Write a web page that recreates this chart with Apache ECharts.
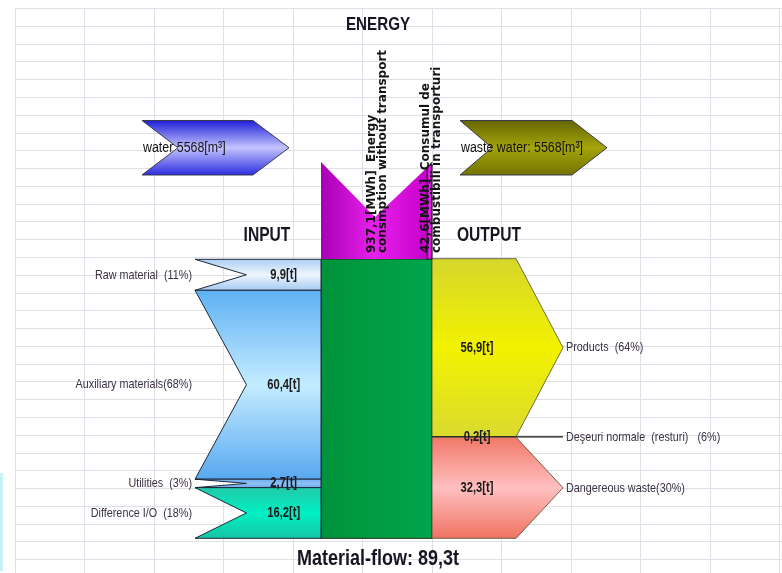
<!DOCTYPE html>
<html><head><meta charset="utf-8">
<script src="https://cdn.jsdelivr.net/npm/echarts@6/dist/echarts.min.js"></script>
<style>html,body{margin:0;padding:0;background:#fff}#c{width:782px;height:573px}</style>
</head><body><div id="c"></div>
<script>
// ---------------- DATA ----------------
const inputNames = ['Raw material  (11%)', 'Auxiliary materials(68%)', 'Utilities  (3%)', 'Difference I/O  (18%)'];
const inputValues = [9.9, 60.4, 2.7, 16.2];            // t
const outputNames = ['Products  (64%)', 'Deşeuri normale  (resturi)   (6%)', 'Dangereous waste(30%)'];
const outputValues = [56.9, 0.2, 32.3];                 // t
const energyLines = [['937,1[MWh]  Energy', 'consmption without transport'], ['42,6[MWh]  Consumul de', 'combustibili în transporturi']];
const energyValues = [937.1, 42.6];                     // MWh
const waterNames = ['water', 'waste water:'];
const waterValues = [5568, 5568];                       // m3
const totalFlow = 89.3;                                 // t
const titleText = 'ENERGY';
const stageTitles = ['INPUT', 'OUTPUT'];
const footerText = 'Material-flow: ' + totalFlow.toFixed(1).replace('.', ',') + 't';

// ---------------- LAYOUT / STYLE ----------------
const COLW = 69.5, ROWH = 17.78;
const COLS = 767 / COLW, ROWS = 564.7 / ROWH;
const L = { inLeft: 2.59, inNotch: 3.33, boxLeft: 4.403, boxRight: 6.0, outBody: 7.21, outTip: 7.885 };
const E = { rowTL: 8.645, notchX: 5.18, rowN: 11.74, rightX: 5.97, rowTR: 8.81, rowB: 14.1 };
const W = [ { x0: 1.827, notch: 2.345, body: 3.424, tip: 3.942 }, { x0: 6.403, notch: 6.863, body: 8.014, tip: 8.518 } ];
const WROW = { top: 6.31, bot: 9.375 };
const FONT = "'Liberation Sans',Arial,sans-serif";
const NX = 0.8; // narrow scale
const fmt = v => v.toFixed(1).replace('.', ',');
const lg = (stops, h) => new echarts.graphic.LinearGradient(0, 0, h ? 1 : 0, h ? 0 : 1, stops.map((c, i) => ({ offset: i / (stops.length - 1), color: c })));
const inFills = [
  ['#a9cdf2', '#eef6ff', '#a2c9f0'],
  ['#5eb0f4', '#c4ecff', '#58a8f0'],
  ['#6aaaf0', '#8cc0f4', '#6aaaf0'],
  ['#22c8a8', '#00f0c4', '#18c4a4']
];
const outFills = [
  ['#d6d62c', '#f2f200', '#dada30'],
  ['#f0f0f0', '#f0f0f0', '#f0f0f0'],
  ['#f07868', '#ffc0c0', '#f07262']
];
function T(text, x, y, size, bold, align, fill, z2) {
  return { type: 'text', x, y, scaleX: NX, z2: z2 || 10, z: 100,
    style: { text, x: 0, y: 0, align: align || 'left', verticalAlign: 'middle', font: (bold ? 'bold ' : '') + size + 'px ' + FONT, fill: fill || '#1a1a1a' } };
}

function stackFromBottom(vals) {
  const out = []; let acc = 0;
  for (let i = vals.length - 1; i >= 0; i--) { out[i] = [acc, acc + vals[i]]; acc += vals[i]; }
  return out;
}
const inStack = stackFromBottom(inputValues);
const outStack = stackFromBottom(outputValues);

const chart = echarts.init(document.getElementById('c'));

function renderInput(params, api) {
  const i = api.value(0), lo = api.value(1), hi = api.value(2), v = api.value(3);
  const tl = api.coord([L.inLeft, hi]), tr = api.coord([L.boxLeft, hi]);
  const br = api.coord([L.boxLeft, lo]), bl = api.coord([L.inLeft, lo]);
  const n = api.coord([L.inNotch, (hi + lo) / 2]);
  return { type: 'group', children: [
    { type: 'polygon', shape: { points: [tl, tr, br, bl, n] }, style: { fill: lg(inFills[i]), stroke: '#1e2838', lineWidth: 1 } },
    T(inputNames[i], tl[0] - 3, n[1], 13.5, false, 'right', '#3c3242'),
    T(fmt(v) + '[t]', (n[0] + tr[0]) / 2, n[1], 14, true, 'center', '#1a1a1a')
  ]};
}
function renderOutput(params, api) {
  const i = api.value(0), lo = api.value(1), hi = api.value(2), v = api.value(3);
  const mid = (hi + lo) / 2;
  const tl = api.coord([L.boxRight, hi]), tb = api.coord([L.outBody, hi]);
  const tip = api.coord([L.outTip, mid]), bb = api.coord([L.outBody, lo]), bl = api.coord([L.boxRight, lo]);
  const children = [];
  if (v >= 1) {
    children.push({ type: 'polygon', shape: { points: [tl, tb, tip, bb, bl] }, style: { fill: lg(outFills[i]), stroke: '#4a4a30', lineWidth: 0.8 } });
  } else {
    const a = api.coord([L.boxRight, mid]);
    children.push({ type: 'line', shape: { x1: a[0], y1: a[1], x2: tip[0], y2: tip[1] }, style: { stroke: '#111', lineWidth: 1.2 } });
  }
  children.push(T(fmt(v) + '[t]', (tl[0] + tb[0]) / 2 + 3, tip[1], 14, true, 'center', '#1a1a1a'));
  children.push(T(outputNames[i], tip[0] + 3, tip[1], 13.5, false, 'left', '#3c3242'));
  return { type: 'group', children };
}
function renderBox(params, api) {
  const a = api.coord([L.boxLeft, api.value(1)]), b = api.coord([L.boxRight, api.value(0)]);
  return { type: 'rect', shape: { x: a[0], y: a[1], width: b[0] - a[0], height: b[1] - a[1] },
    style: { fill: lg(['#00923a', '#00a64c'], true), stroke: '#163016', lineWidth: 1 } };
}
const energyTotal = energyValues.reduce((s, v) => s + v, 0);
const energyData = (() => { let acc = 0; return energyValues.map((v, i) => { const d = [i, acc / energyTotal, (acc + v) / energyTotal, v]; acc += v; return d; }); })();
function vTop(x) {
  if (x <= E.notchX) return E.rowTL + (E.rowN - E.rowTL) * (x - L.boxLeft) / (E.notchX - L.boxLeft);
  if (x <= E.rightX) return E.rowN + (E.rowTR - E.rowN) * (x - E.notchX) / (E.rightX - E.notchX);
  return E.rowTR;
}
function renderEnergy(params, api) {
  const i = api.value(0);
  const w = L.boxRight - L.boxLeft;
  const xa = L.boxLeft + w * api.value(1), xb = L.boxLeft + w * api.value(2);
  const pts = [[xa, vTop(xa)]];
  if (E.notchX > xa && E.notchX < xb) pts.push([E.notchX, E.rowN]);
  if (E.rightX > xa && E.rightX < xb) pts.push([E.rightX, E.rowTR]);
  pts.push([xb, vTop(Math.min(xb, E.rightX))], [xb, E.rowB], [xa, E.rowB]);
  const P = pts.map(p => api.coord(p));
  const bottom = api.coord([0, E.rowB])[1];
  const cx = i === 0 ? api.coord([E.notchX, 0])[0] + 2.3 : (P[0][0] + P[P.length - 3][0]) / 2 + 2;
  const lines = energyLines[i];
  const children = [
    { type: 'polygon', shape: { points: P }, style: { fill: lg(['#a800b4', '#e820ec', '#c800cc'], true), stroke: i === 0 ? 'none' : '#222', lineWidth: 1.2 } }
  ];
  const gap = 11.3;
  lines.forEach((t, k) => {
    children.push({ type: 'text', z2: 10, x: cx + (k - 0.5) * gap, y: bottom - 6, rotation: Math.PI / 2,
      style: { text: t, x: 0, y: 0, align: 'left', verticalAlign: 'middle', font: 'bold 12px "DejaVu Sans",sans-serif', fill: '#151515' } });
  });
  return { type: 'group', children };
}
function renderWater(params, api) {
  const i = api.value(0), v = api.value(1), g = W[i];
  const mid = (WROW.top + WROW.bot) / 2;
  const P = [[g.x0, WROW.top], [g.body, WROW.top], [g.tip, mid], [g.body, WROW.bot], [g.x0, WROW.bot], [g.notch, mid]].map(p => api.coord(p));
  const fill = i === 0 ? lg(['#1c1cd8', '#c4c4ff', '#2a2ae0']) : lg(['#646400', '#a4a40c', '#727200']);
  return { type: 'group', children: [
    { type: 'polygon', shape: { points: P }, style: { fill, stroke: '#3a3a4a', lineWidth: 1 } },
    T(waterNames[i] + ' ' + v + '[m³]', P[0][0] + 1, P[2][1], 15.5, false, 'left', '#111')
  ]};
}

const hiddenAxis = { axisLine: { show: false }, axisTick: { show: false }, axisLabel: { show: false } };
const gridLine = { show: true, lineStyle: { color: '#dce1e8', width: 1 } };
function G(text, x, y, size) {
  return { type: 'text', x, y, scaleX: NX, z: 100, style: { text, x: 0, y: 0, font: 'bold ' + size + 'px ' + FONT, fill: '#161622', align: 'center', verticalAlign: 'middle' } };
}
chart.setOption({
  animation: false,
  backgroundColor: '#ffffff',
  grid: [
    { left: 15, top: 8.3, width: 767, height: 564.7, outerBoundsMode: 'none', containLabel: false },
    { left: 15, top: 259, width: 767, height: 279.3, outerBoundsMode: 'none', containLabel: false }
  ],
  xAxis: [
    Object.assign({ type: 'value', gridIndex: 0, min: 0, max: COLS, interval: 1, splitLine: gridLine }, hiddenAxis),
    Object.assign({ type: 'value', gridIndex: 1, min: 0, max: COLS, splitLine: { show: false } }, hiddenAxis)
  ],
  yAxis: [
    Object.assign({ type: 'value', gridIndex: 0, inverse: true, min: 0, max: ROWS, interval: 1, splitLine: gridLine }, hiddenAxis),
    Object.assign({ type: 'value', gridIndex: 1, min: 0, max: totalFlow, splitLine: { show: false } }, hiddenAxis)
  ],
  graphic: [
    G(titleText, 378, 24.5, 19),
    G(stageTitles[0], 267, 236, 19.5),
    G(stageTitles[1], 489, 236, 19.5),
    G(footerText, 378, 559, 22.5),
    { type: 'rect', z: 100, shape: { x: 0, y: 473, width: 3, height: 98 }, style: { fill: '#c6f2f6' } }
  ],
  series: [
    { type: 'custom', xAxisIndex: 1, yAxisIndex: 1, clip: false, renderItem: renderBox, data: [[0, totalFlow]] },
    { type: 'custom', xAxisIndex: 1, yAxisIndex: 1, clip: false, renderItem: renderInput, data: inputValues.map((v, i) => [i, inStack[i][0], inStack[i][1], v]) },
    { type: 'custom', xAxisIndex: 1, yAxisIndex: 1, clip: false, renderItem: renderOutput, data: outputValues.map((v, i) => [i, outStack[i][0], outStack[i][1], v]) },
    { type: 'custom', xAxisIndex: 0, yAxisIndex: 0, clip: false, renderItem: renderEnergy, data: energyData },
    { type: 'custom', xAxisIndex: 0, yAxisIndex: 0, clip: false, renderItem: renderWater, data: waterValues.map((v, i) => [i, v]) }
  ]
});
</script>
</body></html>
